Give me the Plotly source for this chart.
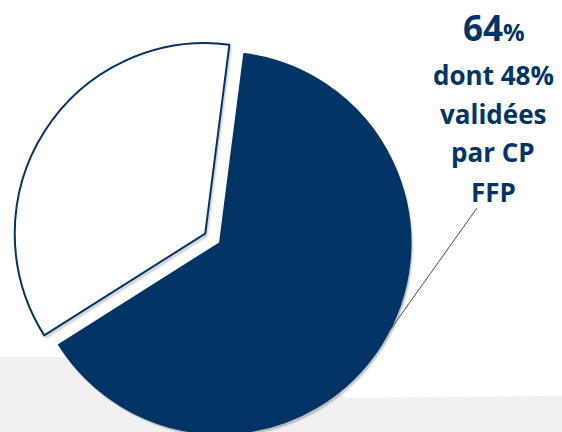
import plotly.graph_objects as go

# data
labels = ["Oui", "Non"]
values = [64, 36]
colors = ["#023466", "#ffffff"]
main_pct = "64"
label_lines = ["dont 48%", "validées", "par CP", "FFP"]

W, H = 562, 460
NAVY = "#023466"

def px(x):
    return x / W

def py(y):
    return 1 - y / H

pie_common = dict(labels=labels, values=values, sort=False, direction="clockwise",
                  rotation=7.3, pull=[0, 0.092], textinfo="none", showlegend=False)

fig = go.Figure()
# soft shadow
fig.add_trace(go.Pie(
    **pie_common,
    marker=dict(colors=["rgba(0,0,0,0.18)", "rgba(0,0,0,0.12)"],
                line=dict(color="rgba(0,0,0,0.06)", width=3)),
    hoverinfo="skip",
    domain=dict(x=[px(2), px(442)], y=[py(454), py(38)]),
))
fig.add_trace(go.Pie(
    **pie_common,
    marker=dict(colors=colors, line=dict(color=NAVY, width=2)),
    hoverinfo="label+percent",
    domain=dict(x=[0, px(440)], y=[py(451), py(35)]),
))

# background band
fig.add_shape(type="path", xref="paper", yref="paper", layer="below",
              path=f"M {px(0)},{py(357)} L {px(300)},{py(357)} L {px(345)},{py(398)} L {px(562)},{py(396)} L {px(562)},{py(470)} L {px(0)},{py(470)} Z",
              fillcolor="#f1f1f1", line=dict(width=0))
# leader line
fig.add_shape(type="line", xref="paper", yref="paper",
              x0=px(477), y0=py(208), x1=px(388), y1=py(333),
              line=dict(color="#4a4a4a", width=1))

fig.add_annotation(x=px(494), y=py(28), xref="paper", yref="paper",
                   text=f"<b><span style='font-size:35px'>{main_pct}</span>%</b>",
                   showarrow=False, font=dict(family="Open Sans", size=24, color=NAVY),
                   xanchor="center", yanchor="middle")
ys = [75, 114, 152, 192]
for t, yy in zip(label_lines, ys):
    fig.add_annotation(x=px(493), y=py(yy), xref="paper", yref="paper",
                       text=f"<b>{t}</b>", showarrow=False,
                       font=dict(family="Open Sans", size=26, color=NAVY),
                       xanchor="center", yanchor="middle")

fig.update_layout(width=W, height=H, margin=dict(l=0, r=0, t=0, b=0),
                  paper_bgcolor="white", plot_bgcolor="white")
fig.write_html("out.html", config={"displayModeBar": False},
               post_script="document.body.style.margin='0';document.body.style.overflow='hidden';")
